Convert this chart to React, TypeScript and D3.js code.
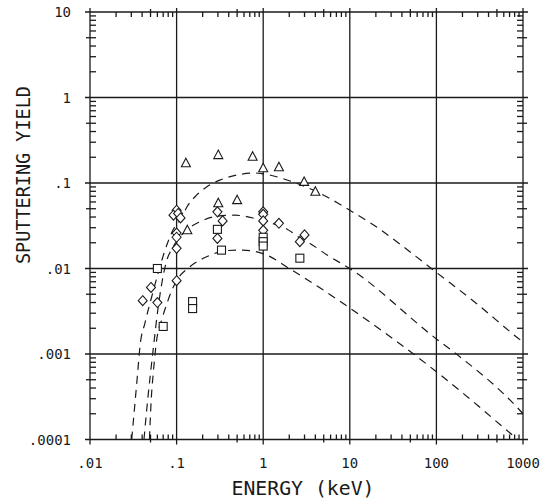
import React from "react";
import * as d3 from "d3";

// ---- data ----
const xDecades = [0.01, 0.1, 1, 10, 100, 1000];
const xTickLabels = [".01", ".1", "1", "10", "100", "1000"];
const yDecades = [0.0001, 0.001, 0.01, 0.1, 1, 10];
const yTickLabels = [".0001", ".001", ".01", ".1", "1", "10"];

// dashed fit curves [energy keV, yield]
const curveA: [number, number][] = [
  [0.0303, 0.0001], [0.0355, 0.0006], [0.0378, 0.00124], [0.0431, 0.0023],
  [0.0515, 0.00464], [0.0794, 0.0204], [0.0907, 0.0282], [0.112, 0.038],
  [0.131, 0.052], [0.17, 0.072], [0.222, 0.09], [0.316, 0.108], [0.5, 0.124],
  [0.8, 0.131], [1.0, 0.128], [2.2, 0.103], [5.4, 0.069], [10, 0.048],
  [20, 0.031], [40, 0.0185], [100, 0.009], [290, 0.0039],
  [871, 0.00154], [1000, 0.00138],
];
const curveB: [number, number][] = [
  [0.042, 0.0001], [0.0465, 0.0003], [0.05, 0.0006], [0.0545, 0.0013],
  [0.06, 0.003], [0.068, 0.007], [0.0753, 0.0115], [0.091, 0.0178],
  [0.131, 0.0282], [0.186, 0.0352], [0.3, 0.041], [0.47, 0.042], [0.76, 0.039],
  [1.0, 0.036], [1.87, 0.029], [2.8, 0.022], [3.5, 0.0195], [5.4, 0.0145],
  [10, 0.01], [100, 0.0015], [170, 0.001], [918, 0.00022], [1000, 0.0002],
];
const curveC: [number, number][] = [
  [0.0486, 0.0001], [0.051, 0.0003], [0.0538, 0.0006], [0.0589, 0.00146],
  [0.068, 0.0026], [0.0767, 0.0038], [0.0877, 0.0055], [0.1, 0.0072],
  [0.1426, 0.0105], [0.222, 0.0137], [0.378, 0.0162], [0.583, 0.0164],
  [1.09, 0.0144], [2.0, 0.01], [2.65, 0.0084], [10, 0.00345], [100, 0.00062],
  [300, 0.00025], [644, 0.000129], [870, 0.0001],
];

// measured points
const triX = [0.128, 0.303, 0.755, 1.0, 1.52, 2.97, 4.0, 0.303, 0.5, 0.133];
const triY = [0.17, 0.212, 0.203, 0.149, 0.153, 0.103, 0.079, 0.058, 0.063, 0.028];
const diaX = [0.1, 0.092, 0.104, 0.111, 0.1, 0.1, 0.1, 0.1, 0.0506, 0.0406, 0.06,
  0.296, 0.34, 0.296, 1.0, 1.0, 1.0, 1.0, 1.52, 2.65, 3.0];
const diaY = [0.048, 0.042, 0.044, 0.039, 0.026, 0.0232, 0.0172, 0.0072, 0.006, 0.0042, 0.004,
  0.046, 0.036, 0.0225, 0.046, 0.043, 0.036, 0.028, 0.0338, 0.0206, 0.0247];
const sqX = [0.06, 0.07, 0.153, 0.153, 0.296, 0.33, 1.0, 1.0, 1.0, 2.65];
const sqY = [0.01, 0.0021, 0.0041, 0.0034, 0.0287, 0.0164, 0.0232, 0.0206, 0.0183, 0.0132];

const W = 544, H = 502;
const L = 90, R = 523, T = 12, B = 439.5;
const FONT = "'DejaVu Sans Mono', 'Liberation Mono', monospace";
const INK = "#1a1a1a";

export default function App() {
  const x = d3.scaleLog().domain([0.01, 1000]).range([L, R]);
  const y = d3.scaleLog().domain([0.0001, 10]).range([B, T]);
  const line = d3
    .line<[number, number]>()
    .x((d) => x(d[0]))
    .y((d) => y(d[1]))
    .curve(d3.curveMonotoneX);

  const xMinor: { v: number; five: boolean }[] = [];
  xDecades.slice(0, -1).forEach((d) => {
    for (let k = 2; k <= 9; k++) xMinor.push({ v: d * k, five: k === 5 });
  });
  const yMinor: { v: number; five: boolean }[] = [];
  yDecades.slice(0, -1).forEach((d) => {
    for (let k = 2; k <= 9; k++) yMinor.push({ v: d * k, five: k === 5 });
  });

  const sw = 1.3;
  return (
    <svg
      width={W}
      height={H}
      style={{ position: "absolute", left: 0, top: 0, background: "#fff" }}
    >
      <rect x={0} y={0} width={W} height={H} fill="#fff" />
      <g stroke={INK} strokeWidth={sw} fill="none">
        {xDecades.map((d, i) => (
          <line key={"vx" + i} x1={x(d)} x2={x(d)} y1={T - 4} y2={B + 5} />
        ))}
        {yDecades.map((d, i) => (
          <line key={"hy" + i} x1={L - 5} x2={R + 5} y1={y(d)} y2={y(d)} />
        ))}
        {xMinor.map((m, i) => (
          <g key={"xm" + i}>
            <line x1={x(m.v)} x2={x(m.v)} y1={B} y2={B - 5} />
            <line x1={x(m.v)} x2={x(m.v)} y1={T} y2={T + 5} />
            {m.five && (
              <>
                <line x1={x(m.v)} x2={x(m.v)} y1={B} y2={B + 3} />
                <line x1={x(m.v)} x2={x(m.v)} y1={T} y2={T - 3} />
              </>
            )}
          </g>
        ))}
        {yMinor.map((m, i) => (
          <g key={"ym" + i}>
            <line x1={L} x2={L + 6} y1={y(m.v)} y2={y(m.v)} />
            <line x1={R} x2={R - 6} y1={y(m.v)} y2={y(m.v)} />
            {m.five && (
              <>
                <line x1={L} x2={L - 4} y1={y(m.v)} y2={y(m.v)} />
                <line x1={R} x2={R + 4} y1={y(m.v)} y2={y(m.v)} />
              </>
            )}
          </g>
        ))}
      </g>

      <defs>
        <clipPath id="plotclip">
          <rect x={L} y={T} width={R - L} height={B - T} />
        </clipPath>
      </defs>
      <g clipPath="url(#plotclip)" fill="none" stroke={INK} strokeWidth={1.2} strokeDasharray="8 6">
        {[curveA, curveB, curveC].map((c, i) => (
          <path key={"c" + i} d={line(c) || ""} />
        ))}
      </g>

      <g fill="#fff" stroke={INK} strokeWidth={1.1}>
        {triX.map((v, i) => {
          const cx = x(v), cy = y(triY[i]);
          return (
            <path key={"t" + i} d={`M${cx},${cy - 5}L${cx + 4.5},${cy + 3.5}L${cx - 4.5},${cy + 3.5}Z`} />
          );
        })}
        {diaX.map((v, i) => {
          const cx = x(v), cy = y(diaY[i]);
          return (
            <path key={"d" + i} d={`M${cx},${cy - 5}L${cx + 4.5},${cy}L${cx},${cy + 5}L${cx - 4.5},${cy}Z`} />
          );
        })}
        {sqX.map((v, i) => {
          const cx = x(v), cy = y(sqY[i]);
          return <rect key={"s" + i} x={cx - 4} y={cy - 4} width={8} height={8} />;
        })}
      </g>

      <g fontFamily={FONT} fontSize={14} fill={INK}>
        {xDecades.map((d, i) => (
          <text key={"xl" + i} x={x(d)} y={468} textAnchor="middle">
            {xTickLabels[i]}
          </text>
        ))}
        {yDecades.map((d, i) => (
          <text key={"yl" + i} x={71} y={y(d) + 5} textAnchor="end">
            {yTickLabels[i]}
          </text>
        ))}
      </g>

      <text
        x={303}
        y={495}
        textAnchor="middle"
        fontFamily={FONT}
        fontSize={19}
        fill={INK}
        textLength={143}
        lengthAdjust="spacingAndGlyphs"
      >
        ENERGY (keV)
      </text>
      <text
        transform={`translate(30,175) rotate(-90)`}
        textAnchor="middle"
        fontFamily={FONT}
        fontSize={19}
        fill={INK}
        textLength={178}
        lengthAdjust="spacingAndGlyphs"
      >
        SPUTTERING YIELD
      </text>
    </svg>
  );
}
